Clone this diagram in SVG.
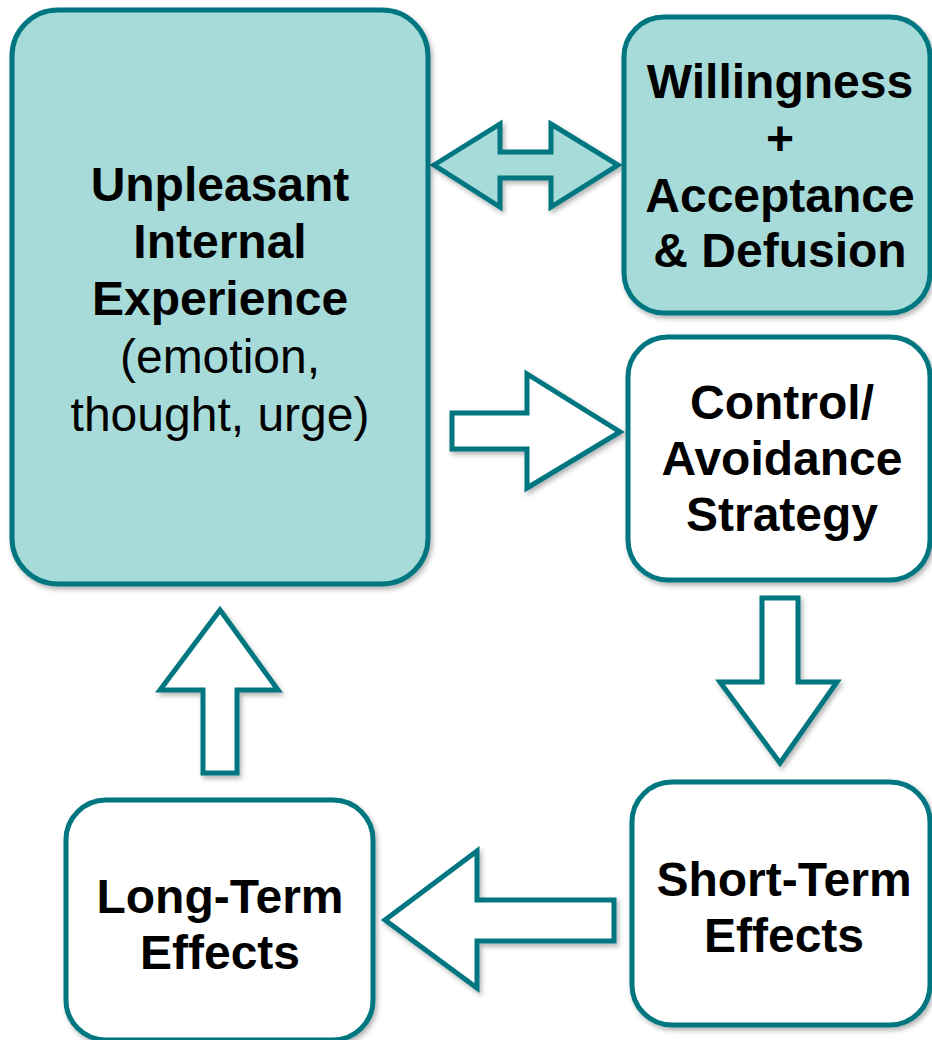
<svg xmlns="http://www.w3.org/2000/svg" width="932" height="1040" viewBox="0 0 932 1040">
<defs>
<filter id="sh" x="-10%" y="-10%" width="125%" height="125%">
<feDropShadow dx="2" dy="3" stdDeviation="2.5" flood-color="#000" flood-opacity="0.3"/>
</filter>
<style>
.box{stroke:#007680;stroke-width:5;filter:url(#sh)}
.teal{fill:#a7dbd9}
.white{fill:#ffffff}
.arr{stroke:#007680;stroke-width:5;stroke-linejoin:miter;filter:url(#sh)}
text{font-family:"Liberation Sans",Arial,sans-serif;font-size:48px;fill:#000;text-anchor:middle}
.b{font-weight:bold}
</style>
</defs>
<rect width="932" height="1040" fill="#ffffff"/>
<g id="connectors">
<polygon class="arr teal" points="434,165 500,124 500,152 551,152 551,124 618,165 551,207 551,178 500,178 500,207"/>
<polygon class="arr white" points="452,413 527,413 527,374 620,432 527,488 527,449 452,449"/>
<polygon class="arr white" points="762,598 798,598 798,682 837,682 780,763 720,682 762,682"/>
<polygon class="arr white" points="614,900 477,900 477,851 385,920 477,988 477,941 614,941"/>
<polygon class="arr white" points="220,610 278,690 237,690 237,773 203,773 203,690 160,690"/>
</g>
<g id="node-unpleasant">
<rect class="box teal" x="12" y="10" width="416" height="574" rx="46"/>
<text x="220" y="201" class="b">Unpleasant</text>
<text x="220" y="258" class="b">Internal</text>
<text x="220" y="315" class="b">Experience</text>
<text x="220" y="373">(emotion,</text>
<text x="220" y="431">thought, urge)</text>
</g>
<g id="node-willingness">
<rect class="box teal" x="624" y="17" width="306" height="296" rx="40"/>
<text x="780" y="98" class="b">Willingness</text>
<text x="780" y="155" class="b">+</text>
<text x="780" y="212" class="b">Acceptance</text>
<text x="780" y="267" class="b">&amp; Defusion</text>
</g>
<g id="node-control">
<rect class="box white" x="628" y="337" width="302" height="243" rx="40"/>
<text x="782" y="419" class="b">Control/</text>
<text x="782" y="475" class="b">Avoidance</text>
<text x="782" y="531" class="b">Strategy</text>
</g>
<g id="node-short">
<rect class="box white" x="632" y="782" width="298" height="243" rx="40"/>
<text x="784" y="896" class="b">Short-Term</text>
<text x="784" y="952" class="b">Effects</text>
</g>
<g id="node-long">
<rect class="box white" x="66" y="800" width="307" height="240" rx="40"/>
<text x="220" y="913" class="b">Long-Term</text>
<text x="220" y="969" class="b">Effects</text>
</g>
</svg>
